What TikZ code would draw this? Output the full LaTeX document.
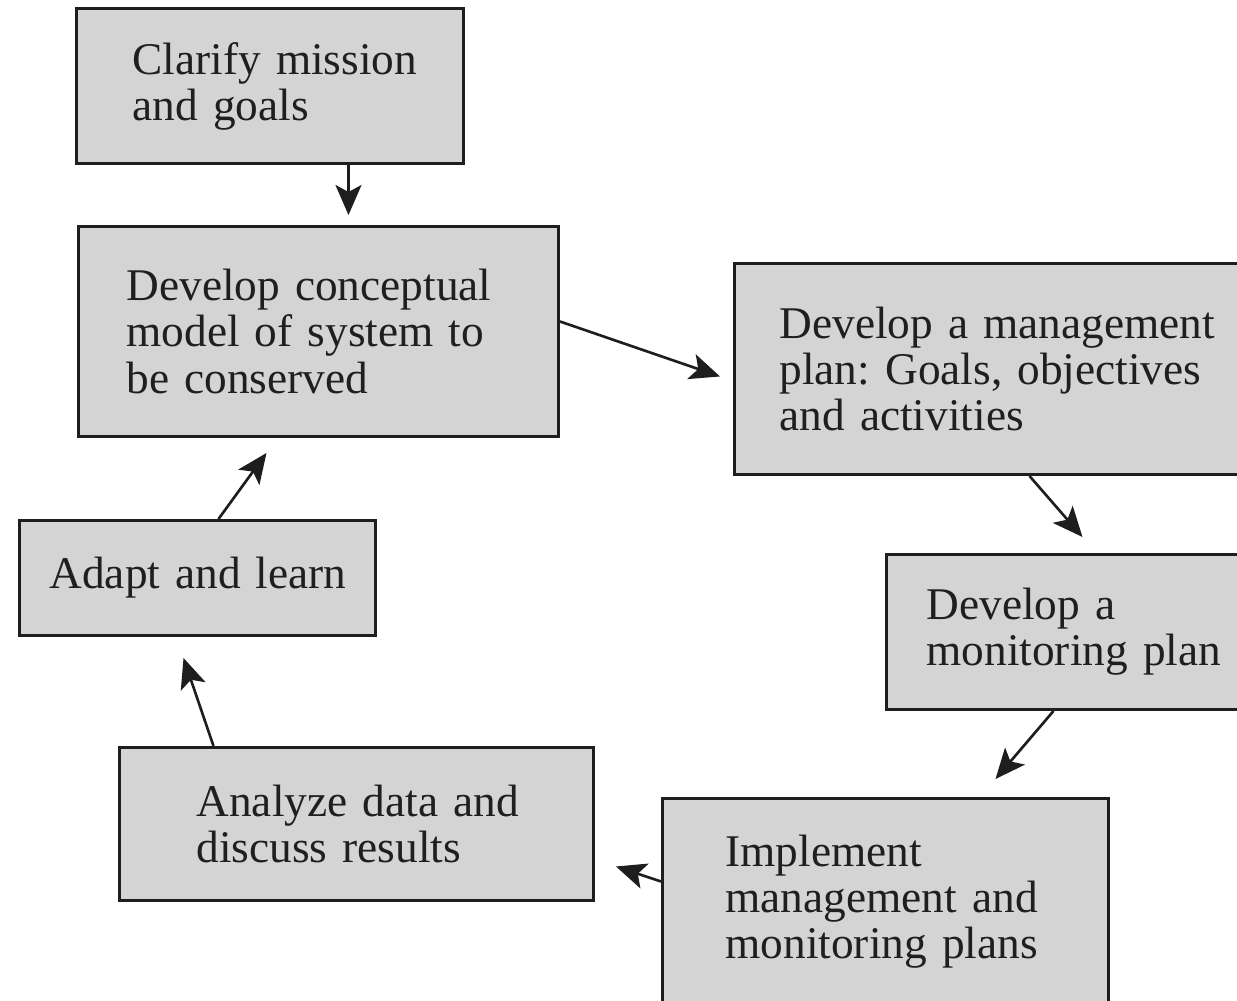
\documentclass[tikz,border=0pt]{standalone}
\usepackage{fontspec}
\setmainfont{Liberation Serif}
\usetikzlibrary{arrows.meta}

\definecolor{boxgray}{RGB}{212,212,212}
\definecolor{edgegray}{RGB}{30,30,30}

\begin{document}
\begin{tikzpicture}[
  x=0.1mm, y=-0.1mm,
  every node/.style = {font=\fontsize{12.9}{13.1}\selectfont\frenchspacing, text=black!88},
  stepbox/.style = {
    draw=edgegray, fill=boxgray, line width=0.85pt, anchor=north west,
    inner xsep=0pt, inner ysep=0pt, align=left
  },
  inset/.style = {execute at begin node={\leftskip=#1\relax}},
  flow/.style = {-{Stealth[length=3mm, width=2.6mm, inset=0.7mm]}, line width=0.75pt, draw=edgegray}
]
\clip (0,0) rectangle (1237,1001);

\node[stepbox, inset=5.6mm, text width=38.7mm, minimum height=15.5mm] (clarify) at (75,7)
  {Clarify mission \\ and goals};
\node[stepbox, inset=4.8mm, text width=48mm, minimum height=21mm] (model) at (77,225)
  {Develop conceptual \\ model of system to \\ be conserved};
\node[stepbox, inset=4.5mm, text width=51.2mm, minimum height=21.1mm] (mgmt) at (733,262)
  {Develop a management \\ plan: Goals, objectives \\ and activities};
\node[stepbox, inset=4mm, text width=36mm, minimum height=15.5mm] (monitor) at (885,553)
  {Develop a \\ monitoring plan};
\node[stepbox, inset=6.3mm, text width=44.6mm, minimum height=20.6mm] (implement) at (661,797)
  {Implement \\ management and \\ monitoring plans};
\node[stepbox, inset=7.7mm, text width=47.4mm, minimum height=15.3mm] (analyze) at (118,746)
  {Analyze data and \\ discuss results};
\node[stepbox, inset=3mm, text width=35.6mm, minimum height=11.5mm] (adapt) at (18,519)
  {Adapt and learn};

% The cycle, clockwise from the mission.
\draw[flow] ([xshift=7.85mm]clarify.south) -- ([xshift=3mm, yshift=1mm]model.north);
\draw[flow] ([yshift=1mm]model.east) -- ([xshift=-1.3mm, yshift=-0.75mm]mgmt.west);
\draw[flow] ([xshift=3.9mm]mgmt.south) -- ([xshift=1.6mm, yshift=1.6mm]monitor.north);
\draw[flow] ([xshift=-1.3mm]monitor.south) -- ([xshift=11mm, yshift=1.8mm]implement.north);
\draw[flow] ([yshift=2mm]implement.west) -- ([xshift=2.1mm, yshift=-4.25mm]analyze.east);
\draw[flow] ([xshift=-14.3mm]analyze.north) -- ([xshift=-1.4mm, yshift=-2.1mm]adapt.south);
\draw[flow] ([xshift=2.1mm]adapt.north) -- ([xshift=-5.2mm, yshift=-1.5mm]model.south);

\end{tikzpicture}
\end{document}
